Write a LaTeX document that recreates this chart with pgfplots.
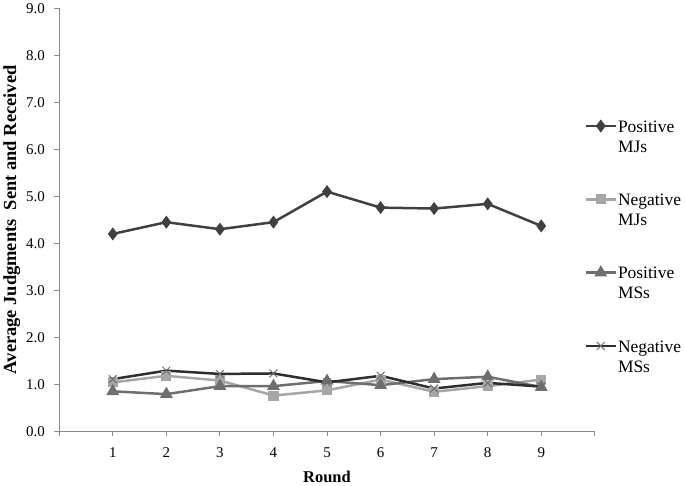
\documentclass[border=0pt]{standalone}
\usepackage{pgfplots}
\pgfplotsset{compat=1.18}
\usepackage{fontspec}
\setmainfont{Liberation Serif}
\definecolor{axisgray}{HTML}{8C8C8C}
\definecolor{posmj}{HTML}{404040}
\definecolor{negmj}{HTML}{A6A6A6}
\definecolor{posms}{HTML}{6E6E6E}
\definecolor{negms}{HTML}{2E2E2E}
\begin{document}
\begin{tikzpicture}
    \begin{axis}[
        scale only axis,
        width=537pt, height=424pt,
        xmin=0, xmax=10,
        ymin=0, ymax=9,
        axis lines*=left,
        axis line style={axisgray, line width=0.9pt},
        every tick/.style={axisgray, line width=0.9pt},
        tick align=outside,
        major tick length=5pt,
        xtick={1,...,9},
        extra x ticks={0,10},
        extra x tick labels={},
        ytick={0,1,...,9},
        yticklabel style={xshift=-6pt, /pgf/number format/.cd, fixed, fixed zerofill, precision=1},
        /pgf/number format/assume math mode=true,
        tick label style={font=\fontsize{15}{17}\selectfont},
        xticklabel style={yshift=-8pt},
        xlabel={\textbf{Round}},
        ylabel={\textbf{Average Judgments\ \ Sent and Received}},
        label style={font=\fontsize{16.5}{18}\selectfont},
        xlabel style={yshift=4pt},
        ylabel style={yshift=-1pt, font=\fontsize{18.5}{20}\selectfont},
        legend style={
            draw=none, fill=none,
            at={(rel axis cs:0.975,0.75)}, anchor=north west,
            font=\fontsize{17.5}{20}\selectfont,
            nodes={inner xsep=1pt},
            row sep=54pt,
        },
        legend cell align=left,
        legend image code/.code={
            \draw[mark repeat=2, mark phase=2, #1]
            plot coordinates {(0pt,0pt) (15pt,0pt) (30pt,0pt)};
        },
        clip=false,
    ]
    % Positive MJs
    \addplot[line width=2.5pt, color=posmj, mark=diamond*, mark size=4.5pt]
    coordinates {
    (1,4.20) (2,4.45) (3,4.30) (4,4.45) (5,5.10) (6,4.76) (7,4.74) (8,4.84) (9,4.37)
    };
    \addlegendentry{\begin{tabular}[t]{@{}l@{}}Positive\\MJs\end{tabular}}

    % Negative MJs
    \addplot[line width=2.5pt, color=negmj, mark=square*, mark size=3.8pt]
    coordinates {
    (1,1.04) (2,1.18) (3,1.08) (4,0.76) (5,0.87) (6,1.10) (7,0.84) (8,0.96) (9,1.10)
    };
    \addlegendentry{\begin{tabular}[t]{@{}l@{}}Negative\\MJs\end{tabular}}

    % Positive MSs
    \addplot[line width=2.5pt, color=posms, mark=triangle*, mark size=5pt]
    coordinates {
    (1,0.85) (2,0.79) (3,0.96) (4,0.96) (5,1.07) (6,0.98) (7,1.11) (8,1.16) (9,0.94)
    };
    \addlegendentry{\begin{tabular}[t]{@{}l@{}}Positive\\MSs\end{tabular}}

    % Negative MSs
    \addplot[line width=2.5pt, color=negms, mark=x, mark size=5.5pt, mark options={line width=1pt, color=posms}]
    coordinates {
    (1,1.11) (2,1.29) (3,1.22) (4,1.23) (5,1.04) (6,1.18) (7,0.91) (8,1.03) (9,0.95)
    };
    \addlegendentry{\begin{tabular}[t]{@{}l@{}}Negative\\MSs\end{tabular}}
    \end{axis}
\end{tikzpicture}
\end{document}
